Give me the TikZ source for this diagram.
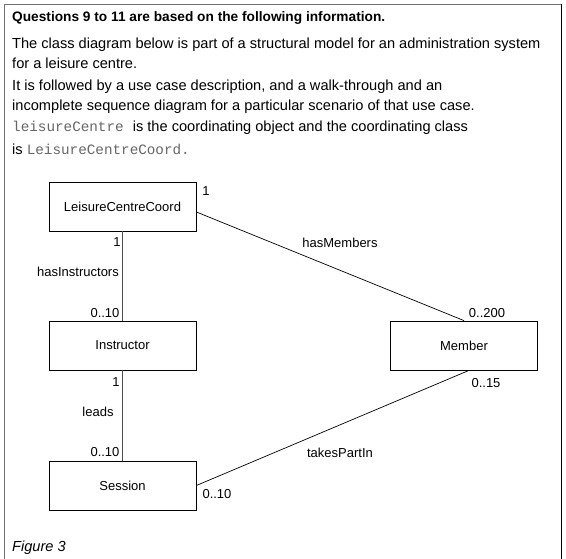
\documentclass[tikz,border=0pt]{standalone}
\usepackage{fontspec}
\setmainfont{Liberation Sans}
\setmonofont{Liberation Mono}
\usetikzlibrary{positioning}
\newcommand{\cname}[1]{{\ttfamily\fontsize{14.3}{16}\selectfont\color{black!60}#1}}

\begin{document}
\begin{tikzpicture}[x=1pt,y=-1pt,
  cls/.style={draw, line width=0.8pt, minimum width=147pt, minimum height=49pt,
    inner sep=0pt, font=\fontsize{13}{15}\selectfont},
  assoc/.style={draw, line width=0.7pt},
  lbl/.style={font=\fontsize{13}{15}\selectfont, inner sep=1pt},
  txt/.style={anchor=base west, inner sep=0pt, font=\fontsize{14.6}{17}\selectfont}]
\useasboundingbox (0,0) rectangle (566,559);
% frame
\draw[black!55, line width=0.8pt] (4,559) -- (4,4) -- (561,4);
\draw[black, line width=0.8pt] (561,4) -- (561,559);
% text above the diagram
\node[txt, font=\bfseries\fontsize{13.7}{17}\selectfont] (head) at (12,22) {Questions 9 to 11 are based on the following information.};
\node[txt] (l1) at (12,49) {The class diagram below is part of a structural model for an administration system};
\node[txt] (l2) at (12,69) {for a leisure centre.};
\node[txt] (l3) at (12,91) {It is followed by a use case description, and a walk-through and an};
\node[txt] (l4) at (12,111) {incomplete sequence diagram for a particular scenario of that use case.};
\node[txt] (l5) at (12,132) {\cname{leisureCentre}\hspace{5pt} is the coordinating object and the coordinating class};
\node[txt] (l6) at (12,155) {is \cname{LeisureCentreCoord.}};
% classes
\node[cls] (lcc) at (122.5,206.5) {LeisureCentreCoord};
\node[cls] (instr) at (122.5,345.5) {Instructor};
\node[cls] (sess) at (122.5,485.5) {Session};
\node[cls] (memb) at (464,345.5) {Member};
% associations
\draw[assoc, black!70] (lcc.south) -- (instr.north);
\draw[assoc, black!70] (instr.south) -- (sess.north);
\draw[assoc] ([yshift=-5.5pt]lcc.east) -- (memb.north);
\draw[assoc] ([xshift=5pt]memb.south) -- (sess.east);
% multiplicities and names
\node[lbl] at (206,191) {1};
\node[lbl] at (340,243) {hasMembers};
\node[lbl] at (487,313) {0..200};
\node[lbl] at (117,242) {1};
\node[lbl] at (78,272) {hasInstructors};
\node[lbl] at (105,313) {0..10};
\node[lbl] at (116,382) {1};
\node[lbl] at (98,412) {leads};
\node[lbl] at (105,452) {0..10};
\node[lbl] at (486,383) {0..15};
\node[lbl] at (340,453) {takesPartIn};
\node[lbl] at (217,494) {0..10};
\node[txt, font=\itshape\fontsize{14.6}{17}\selectfont] (fig) at (12,551) {Figure 3};
\end{tikzpicture}
\end{document}
